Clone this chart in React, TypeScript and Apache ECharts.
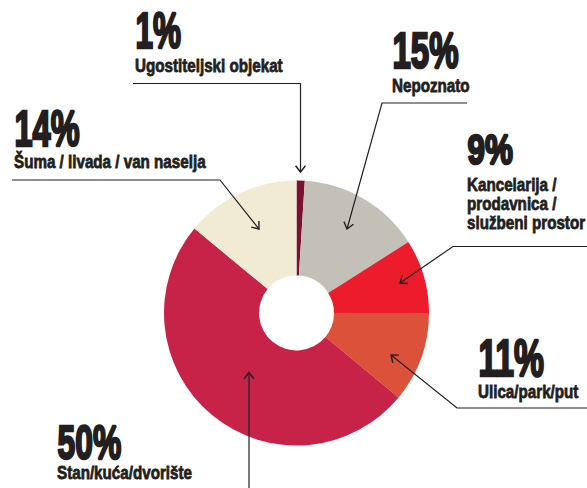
import React, { useEffect, useRef } from "react";
import * as echarts from "echarts";

const categories = [
  "Ugostiteljski objekat",
  "Nepoznato",
  "Kancelarija / prodavnica / službeni prostor",
  "Ulica/park/put",
  "Stan/kuća/dvorište",
  "Šuma / livada / van naselja",
];
const values = [1, 15, 9, 11, 50, 14];
const labelLines = [
  ["Ugostiteljski objekat"],
  ["Nepoznato"],
  ["Kancelarija /", "prodavnica /", "službeni prostor"],
  ["Ulica/park/put"],
  ["Stan/kuća/dvorište"],
  ["Šuma / livada / van naselja"],
];
const colors = ["#7b1031", "#c3c0b8", "#ec1c2c", "#dc5139", "#c72247", "#f1ebd3"];

// label placement (pixels)
const layout = [
  { x: 135, numY: 31, numSize: 50, numScale: 0.63, textY: 65, pts: [[133, 83.5], [300.5, 83.5], [300.5, 172]] },
  { x: 392, numY: 51, numSize: 50, numScale: 0.66, textY: 85.5, pts: [[467, 103], [382, 103], [347, 229]] },
  { x: 467, numY: 149.5, numSize: 43, numScale: 0.73, textY: 184.5, pts: [[587, 246.5], [453, 246.5], [400, 283]] },
  { x: 478, numY: 358, numSize: 51, numScale: 0.66, textY: 391, pts: [[587, 408], [457, 408], [391, 355]] },
  { x: 57, numY: 442.5, numSize: 49, numScale: 0.65, textY: 472, pts: [[249, 488], [249, 372.5]] },
  { x: 14, numY: 128.5, numSize: 50, numScale: 0.65, textY: 161.5, pts: [[12, 180], [220, 180], [259, 229]] },
];

const FONT = "'Liberation Sans', Arial, sans-serif";
const INK = "#231f20";

function buildGraphics() {
  const els: any[] = [];
  values.forEach((v, i) => {
    const L = layout[i];
    els.push({
      type: "text",
      z: 100,
      x: L.x + 0.5,
      y: L.numY,
      scaleX: L.numScale,
      style: {
        text: `${v}%`,
        fill: INK,
        stroke: INK,
        lineWidth: 2.6,
        font: `bold ${L.numSize}px ${FONT}`,
        align: "left",
        verticalAlign: "middle",
      },
    });
    labelLines[i].forEach((t, j) => {
      els.push({
        type: "text",
        z: 100,
        x: L.x,
        y: L.textY + j * 19,
        scaleX: 0.8,
        style: {
          text: t,
          fill: INK,
          stroke: INK,
          lineWidth: 0.8,
          font: `bold 19px ${FONT}`,
          align: "left",
          verticalAlign: "middle",
        },
      });
    });
    els.push({
      type: "polyline",
      z: 100,
      shape: { points: L.pts },
      style: { stroke: INK, lineWidth: 1.2, fill: null },
    });
    const n = L.pts.length;
    const tip = L.pts[n - 1];
    const prev = L.pts[n - 2];
    const dx = tip[0] - prev[0];
    const dy = tip[1] - prev[1];
    const len = Math.hypot(dx, dy);
    const ux = dx / len;
    const uy = dy / len;
    const a = (38 * Math.PI) / 180;
    const wl = 8;
    const w = (s: number) => {
      const c = Math.cos(s * a);
      const sn = Math.sin(s * a);
      const rx = ux * c - uy * sn;
      const ry = ux * sn + uy * c;
      return [tip[0] - rx * wl, tip[1] - ry * wl];
    };
    els.push({
      type: "polyline",
      z: 100,
      shape: { points: [w(1), tip, w(-1)] },
      style: { stroke: INK, lineWidth: 1.4, fill: null },
    });
  });
  return els;
}

export default function App() {
  const ref = useRef<HTMLDivElement>(null);
  useEffect(() => {
    if (!ref.current) return;
    const chart = echarts.init(ref.current, null, { renderer: "svg" });
    chart.setOption({
      animation: false,
      backgroundColor: "#ffffff",
      series: [
        {
          type: "pie",
          z: 1,
          center: [296.5, 313],
          radius: [37.5, 132.5],
          startAngle: 90,
          clockwise: true,
          label: { show: false },
          labelLine: { show: false },
          emphasis: { disabled: true },
          itemStyle: { borderWidth: 0 },
          data: categories.map((c, i) => ({
            name: c,
            value: values[i],
            itemStyle: { color: colors[i] },
          })),
        },
      ],
      graphic: buildGraphics(),
    });
    return () => chart.dispose();
  }, []);
  return (
    <div
      ref={ref}
      style={{ position: "absolute", left: 0, top: 0, width: 587, height: 488 }}
    />
  );
}
